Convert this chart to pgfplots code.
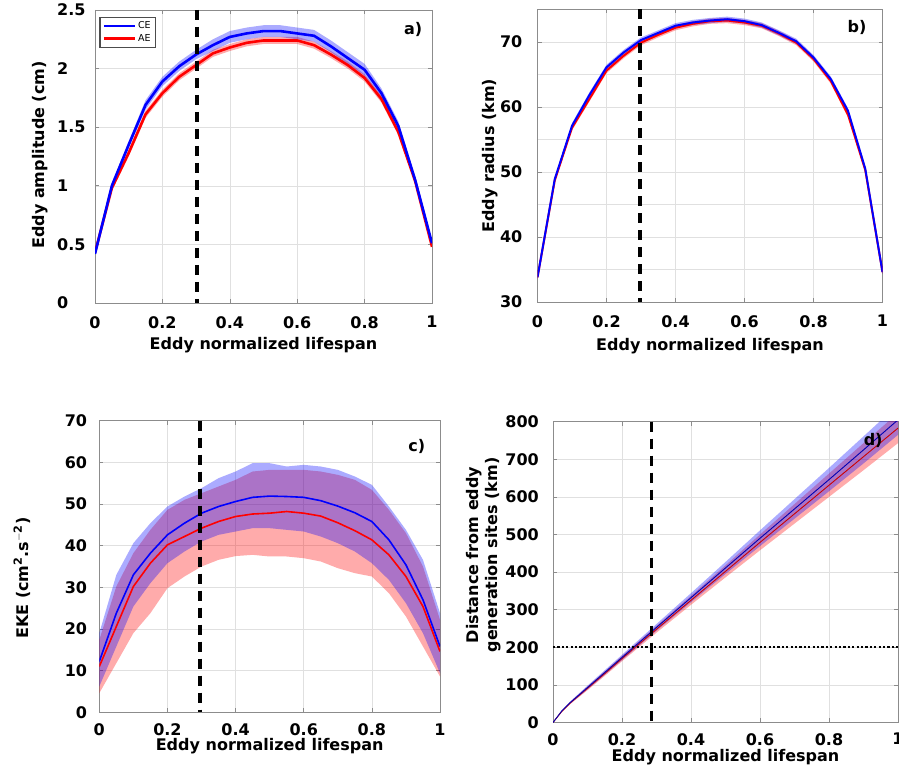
\documentclass[border=0pt]{standalone}
\usepackage{pgfplots}
\pgfplotsset{compat=1.18}
\usepackage{pgfplotstable}
\usepgfplotslibrary{fillbetween}
\usepackage{fontspec}
\setmainfont{DejaVu Sans}

% Panel a: eddy amplitude (cm)
\pgfplotstableread{
x    ce   cew  ae   aew
0    0.42 0.01 0.43 0.01
0.05 1.00 0.02 0.98 0.02
0.10 1.35 0.03 1.28 0.03
0.15 1.69 0.04 1.61 0.03
0.20 1.89 0.04 1.79 0.03
0.25 2.02 0.04 1.93 0.03
0.30 2.12 0.04 2.03 0.03
0.35 2.20 0.05 2.13 0.03
0.40 2.27 0.05 2.18 0.03
0.45 2.30 0.05 2.22 0.03
0.50 2.32 0.05 2.24 0.03
0.55 2.32 0.05 2.24 0.03
0.60 2.30 0.05 2.24 0.03
0.65 2.28 0.05 2.20 0.03
0.70 2.19 0.05 2.12 0.03
0.75 2.09 0.05 2.03 0.03
0.80 1.99 0.05 1.92 0.03
0.85 1.79 0.04 1.74 0.03
0.90 1.51 0.04 1.46 0.03
0.95 1.05 0.03 1.04 0.02
1.00 0.51 0.01 0.48 0.01
}\dataA

% Panel b: eddy radius (km)
\pgfplotstableread{
x    ce   cew ae   aew
0    33.8 0.3 33.8 0.3
0.05 48.9 0.3 48.7 0.3
0.10 57.1 0.4 56.8 0.4
0.15 61.8 0.4 61.2 0.4
0.20 66.1 0.4 65.6 0.4
0.25 68.4 0.4 67.9 0.4
0.30 70.3 0.4 69.9 0.4
0.35 71.4 0.4 71.1 0.4
0.40 72.5 0.4 72.2 0.4
0.45 73.0 0.4 72.8 0.4
0.50 73.3 0.4 73.2 0.4
0.55 73.5 0.4 73.3 0.4
0.60 73.2 0.4 73.0 0.4
0.65 72.6 0.4 72.5 0.4
0.70 71.4 0.4 71.3 0.4
0.75 70.1 0.4 69.9 0.4
0.80 67.6 0.4 67.4 0.4
0.85 64.3 0.4 64.0 0.4
0.90 59.4 0.4 58.8 0.4
0.95 50.5 0.4 50.3 0.4
1.00 34.6 0.3 34.6 0.3
}\dataB

% Panel c: EKE
\pgfplotstableread{
x    ce   celo cehi ae   aelo aehi
0    12.2 6.2  19.0 11.0 4.6  17.4
0.05 23.8 15.8 33.0 20.6 11.8 30.2
0.10 33.0 25.4 40.6 30.2 19.0 38.2
0.15 38.2 31.0 45.4 35.8 23.8 43.8
0.20 42.6 35.8 49.4 40.2 29.8 48.6
0.25 45.4 38.6 51.8 42.2 32.6 51.0
0.30 47.8 41.0 53.8 44.2 35.0 52.6
0.35 49.4 42.6 56.2 45.8 36.6 54.2
0.40 50.6 43.4 57.8 47.0 37.5 55.8
0.45 51.6 44.2 59.8 47.6 37.8 57.8
0.50 51.9 44.2 59.8 47.8 37.4 58.2
0.55 51.8 43.8 59.0 48.2 37.4 58.2
0.60 51.6 43.4 59.4 47.8 37.0 58.2
0.65 50.8 42.2 59.0 47.1 36.2 57.8
0.70 49.5 40.6 58.2 45.5 34.6 57.0
0.75 47.9 38.6 56.6 43.6 33.4 55.8
0.80 45.8 35.8 54.6 41.4 32.6 53.4
0.85 41.4 31.8 49.4 37.8 28.6 48.6
0.90 35.4 26.2 43.8 32.6 23.0 43.0
0.95 27.0 19.0 36.6 25.4 15.8 35.0
1.00 15.8 9.4  23.8 14.6 8.6  22.2
}\dataC

% Panel d: distance from generation sites (km)
\pgfplotstableread{
x     ce  ae  w
0     0   0   0
0.025 30  29  2
0.05  53  52  3
0.10  93  91  5
0.15  133 130 6
0.20  173 170 7
0.25  213 209 8
0.30  253 248 9
0.40  332 325 12
0.50  411 402 16
0.60  490 479 21
0.70  568 555 26
0.80  646 631 31
0.90  725 707 36
1.00  805 783 40
}\dataD

\pgfplotsset{
  panel/.style={
    scale only axis, anchor=south west,
    xmin=0, xmax=1,
    xtick={0,0.2,0.4,0.6,0.8,1},
    xticklabels={0,0.2,0.4,0.6,0.8,1},
    grid=major,
    grid style={black!12, line width=0.5pt},
    axis line style={black!45, line width=0.8pt},
    tick align=inside, major tick length=4pt,
    tick style={black!45, line width=0.6pt},
    /pgf/number format/assume math mode=true,
    ticklabel style={font=\fontsize{16}{19}\selectfont\bfseries},
    label style={font=\fontsize{16}{19}\selectfont\bfseries},
    xticklabel style={inner sep=0pt, anchor=north, yshift=-13pt},
    xlabel={Eddy normalized lifespan},
  },
  cebandA/.style={fill=blue, fill opacity=0.33, draw=none, forget plot},
  aebandA/.style={fill=red, fill opacity=0.33, draw=none, forget plot},
}

\begin{document}
\begin{tikzpicture}[x=1pt,y=1pt]

% ---------------- Panel a ----------------
\begin{axis}[panel,
  at={(95pt,475pt)}, width=337pt, height=293pt,
  ymin=0, ymax=2.5,
  ytick={0,0.5,1,1.5,2,2.5},
  yticklabels={0,0.5,1,1.5,2,2.5},
  yticklabel style={inner sep=0pt, anchor=west, xshift=-38pt},
  ylabel={Eddy amplitude (cm)},
  ylabel style={at={(axis description cs:-0.163,0.505)}, anchor=center},
  xlabel style={at={(axis description cs:0.5,-0.160)}, anchor=base},
  legend style={at={(axis description cs:0.0128,0.977)}, anchor=north west,
    draw=black!70, line width=1.3pt, fill=white,
    font=\fontsize{9.5}{11}\selectfont, inner sep=2.5pt, row sep=0pt,
    cells={anchor=west}},
  legend image code/.code={\draw[#1] (0pt,0pt) -- (31pt,0pt);},
]
\addlegendimage{blue, line width=2.6pt}
\addlegendentry{CE}
\addlegendimage{red, line width=2.6pt}
\addlegendentry{AE}
\addplot[name path=aeh, draw=none, forget plot] table[x=x, y expr=\thisrow{ae}+\thisrow{aew}] {\dataA};
\addplot[name path=ael, draw=none, forget plot] table[x=x, y expr=\thisrow{ae}-\thisrow{aew}] {\dataA};
\addplot[aebandA] fill between[of=aeh and ael];
\addplot[red, line width=2.6pt, forget plot] table[x=x, y=ae] {\dataA};
\addplot[name path=ceh, draw=none, forget plot] table[x=x, y expr=\thisrow{ce}+\thisrow{cew}] {\dataA};
\addplot[name path=cel, draw=none, forget plot] table[x=x, y expr=\thisrow{ce}-\thisrow{cew}] {\dataA};
\addplot[cebandA] fill between[of=ceh and cel];
\addplot[blue, line width=2.6pt, forget plot] table[x=x, y=ce] {\dataA};
\addplot[black, line width=3.5pt, dash pattern=on 10pt off 7pt, forget plot] coordinates {(0.302,2.5) (0.302,0)};
\node[font=\fontsize{16}{19}\selectfont\bfseries] at (axis description cs:0.944,0.935) {a)};
\end{axis}

% ---------------- Panel b ----------------
\begin{axis}[panel,
  at={(537.5pt,476pt)}, width=345pt, height=292.5pt,
  ymin=30, ymax=75,
  ytick={30,40,50,60,70},
  yticklabels={30,40,50,60,70},
  minor ytick={35,45,55,65},
  grid=both, minor grid style={black!12, line width=0.5pt},
  minor tick length=0pt,
  yticklabel style={inner sep=0pt, anchor=east, xshift=-15pt},
  ylabel={Eddy radius (km)},
  ylabel style={at={(axis description cs:-0.138,0.5)}, anchor=center},
  xlabel style={at={(axis description cs:0.5,-0.1675)}, anchor=base},
]
\addplot[name path=aeh, draw=none, forget plot] table[x=x, y expr=\thisrow{ae}+\thisrow{aew}] {\dataB};
\addplot[name path=ael, draw=none, forget plot] table[x=x, y expr=\thisrow{ae}-\thisrow{aew}] {\dataB};
\addplot[aebandA] fill between[of=aeh and ael];
\addplot[red, line width=2pt, forget plot] table[x=x, y=ae] {\dataB};
\addplot[name path=ceh, draw=none, forget plot] table[x=x, y expr=\thisrow{ce}+\thisrow{cew}] {\dataB};
\addplot[name path=cel, draw=none, forget plot] table[x=x, y expr=\thisrow{ce}-\thisrow{cew}] {\dataB};
\addplot[cebandA] fill between[of=ceh and cel];
\addplot[blue, line width=2pt, forget plot] table[x=x, y=ce] {\dataB};
\addplot[black, line width=3.5pt, dash pattern=on 10pt off 7pt, forget plot] coordinates {(0.297,75) (0.297,30)};
\node[font=\fontsize{16}{19}\selectfont\bfseries] at (axis description cs:0.926,0.938) {b)};
\end{axis}

% ---------------- Panel c ----------------
\begin{axis}[panel,
  at={(99.3pt,65.7pt)}, width=340.7pt, height=291.6pt,
  ymin=0, ymax=70,
  ytick={0,10,20,30,40,50,60,70},
  yticklabels={0,10,20,30,40,50,60,70},
  yticklabel style={inner sep=0pt, anchor=east, xshift=-12pt},
  xticklabel style={yshift=1.5pt},
  ylabel={EKE (cm$^{\mathbf{2}}$.s$^{\mathbf{-2}}$)},
  ylabel style={at={(axis description cs:-0.227,0.46)}, anchor=center},
  xlabel style={at={(axis description cs:0.5,-0.1305)}, anchor=base},
]
\addplot[name path=aeh, draw=none, forget plot] table[x=x, y=aehi] {\dataC};
\addplot[name path=ael, draw=none, forget plot] table[x=x, y=aelo] {\dataC};
\addplot[aebandA] fill between[of=aeh and ael];
\addplot[red, line width=1.6pt, forget plot] table[x=x, y=ae] {\dataC};
\addplot[name path=ceh, draw=none, forget plot] table[x=x, y=cehi] {\dataC};
\addplot[name path=cel, draw=none, forget plot] table[x=x, y=celo] {\dataC};
\addplot[cebandA] fill between[of=ceh and cel];
\addplot[blue, line width=1.6pt, forget plot] table[x=x, y=ce] {\dataC};
\addplot[black, line width=3.5pt, dash pattern=on 10pt off 7pt, forget plot] coordinates {(0.296,70) (0.296,0)};
\node[font=\fontsize{16}{19}\selectfont\bfseries] at (axis description cs:0.932,0.911) {c)};
\end{axis}

% ---------------- Panel d ----------------
\begin{axis}[panel,
  at={(553pt,55.5pt)}, width=345pt, height=300.8pt,
  ymin=0, ymax=800,
  ytick={0,100,200,300,400,500,600,700,800},
  yticklabels={0,100,200,300,400,500,600,700,800},
  yticklabel style={inner sep=0pt, anchor=east, xshift=-14pt},
  xticklabel style={yshift=2.5pt},
  ylabel={Distance from eddy\\generation sites (km)},
  ylabel style={at={(axis description cs:-0.2015,0.557)}, anchor=center, align=center},
  xlabel style={at={(axis description cs:0.5,-0.1297)}, anchor=base},
]
\addplot[name path=aeh, draw=none, forget plot] table[x=x, y expr=\thisrow{ae}+\thisrow{w}] {\dataD};
\addplot[name path=ael, draw=none, forget plot] table[x=x, y expr=\thisrow{ae}-\thisrow{w}] {\dataD};
\addplot[aebandA] fill between[of=aeh and ael];
\addplot[red!80!black, line width=0.9pt, forget plot] table[x=x, y=ae] {\dataD};
\addplot[name path=ceh, draw=none, forget plot] table[x=x, y expr=\thisrow{ce}+\thisrow{w}] {\dataD};
\addplot[name path=cel, draw=none, forget plot] table[x=x, y expr=\thisrow{ce}-\thisrow{w}] {\dataD};
\addplot[cebandA] fill between[of=ceh and cel];
\addplot[blue!70!black, line width=0.9pt, forget plot] table[x=x, y=ce] {\dataD};
\addplot[black, line width=1.6pt, dash pattern=on 2.2pt off 2.2pt, forget plot] coordinates {(0,200) (1,200)};
\addplot[black, line width=3.5pt, dash pattern=on 10pt off 7pt, forget plot] coordinates {(0.286,800) (0.286,0)};
\node[font=\fontsize{16}{19}\selectfont\bfseries] at (axis description cs:0.928,0.939) {d)};
\end{axis}

\pgfresetboundingbox
\path[use as bounding box] (0pt,0pt) rectangle (899pt,778pt);
\end{tikzpicture}
\end{document}
